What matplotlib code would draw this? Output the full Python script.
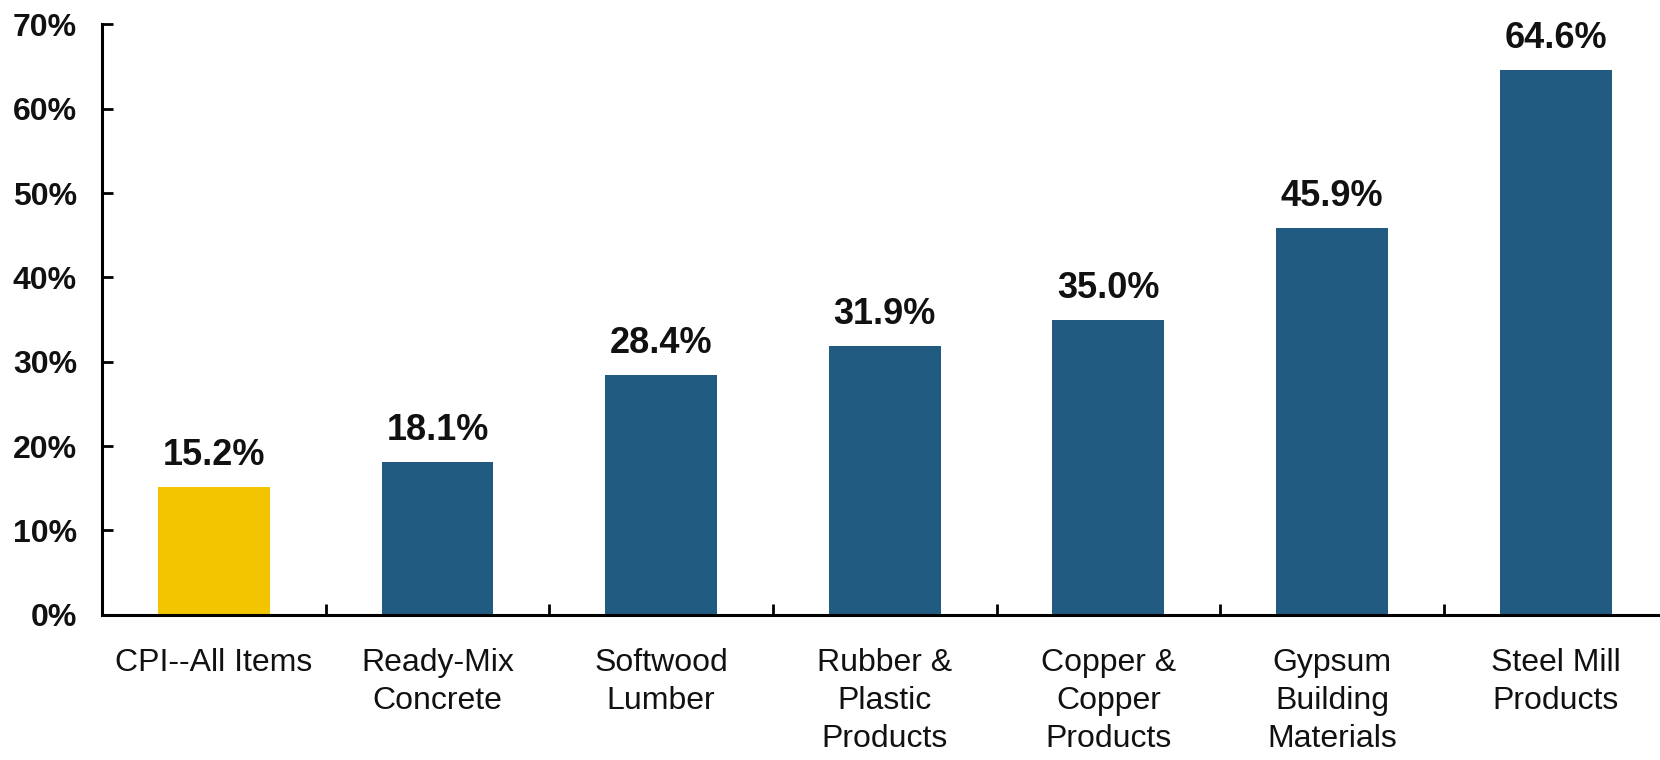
import matplotlib.pyplot as plt
import numpy as np

categories = ["CPI--All Items", "Ready-Mix\nConcrete", "Softwood\nLumber",
              "Rubber &\nPlastic\nProducts", "Copper &\nCopper\nProducts",
              "Gypsum\nBuilding\nMaterials", "Steel Mill\nProducts"]
values = [15.2, 18.1, 28.4, 31.9, 35.0, 45.9, 64.6]
colors = ["#F2C500"] + ["#215B82"] * 6
y_ticks = [0, 10, 20, 30, 40, 50, 60, 70]

plt.rcParams["font.family"] = ["Liberation Sans", "DejaVu Sans"]

fig = plt.figure(figsize=(16.6, 7.6), dpi=100)
ax = fig.add_axes([0.0615, 0.191, 0.943, 0.777])

x = np.arange(len(categories))
bars = ax.bar(x, values, width=0.5, color=colors)

for xi, v in zip(x, values):
    ax.annotate(f"{v:.1f}%", (xi, v), xytext=(0, 10), textcoords="offset points",
                ha="center", va="bottom", fontsize=26, fontweight="bold", color="#111111")

ax.set_xlim(-0.5, len(categories) - 0.5)
ax.set_ylim(0, 70)
ax.set_yticks(y_ticks)
ax.set_yticklabels([f"{t}%" for t in y_ticks], fontsize=23, fontweight="bold", color="#111111")
ax.set_xticks(x)
ax.set_xticklabels(categories, fontsize=23, color="#111111", linespacing=1.35, va="top")
ax.set_xticks(x[:-1] + 0.5, minor=True)

ax.tick_params(axis="x", which="major", length=0, pad=24)
ax.tick_params(axis="x", which="minor", direction="in", length=8, width=2)
ax.tick_params(axis="y", direction="in", length=8, width=2, pad=18)

for s in ["top", "right"]:
    ax.spines[s].set_visible(False)
for s in ["left", "bottom"]:
    ax.spines[s].set_linewidth(2.2)

fig.savefig("out.png", dpi=100)
